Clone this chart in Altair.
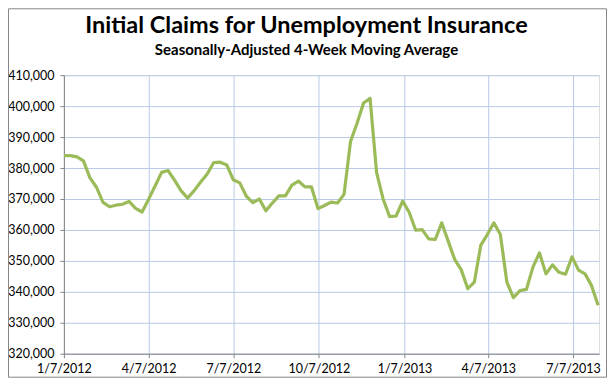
import altair as alt
import pandas as pd

# 4-week moving average of initial claims, weekly, first week ending 1/7/2012
claims = [
    384000, 384000, 383600, 382300, 376800, 373800, 368900, 367500, 368000, 368300,
    369200, 367000, 365800, 369900, 374200, 378600, 379200, 376000, 372600, 370300,
    372700, 375500, 378100, 381800, 381900, 381000, 376200, 375200, 370900, 368800,
    370000, 366200, 368700, 371000, 371000, 374500, 375800, 373900, 373900, 366900,
    367900, 369000, 368700, 371500, 388600, 394500, 401000, 402500, 378500, 370000,
    364300, 364500, 369300, 365700, 359900, 360100, 357100, 356900, 362300, 356300,
    350400, 347100, 341000, 343100, 355100, 358500, 362300, 358500, 343100, 338100,
    340400, 340800, 348000, 352600, 345800, 348700, 346300, 345700, 351300, 347000,
    345800, 342000, 335700,
]
week_ending = pd.date_range("2012-01-07", periods=len(claims), freq="7D")

x_ticks = ["2012-01-07", "2012-04-07", "2012-07-07", "2012-10-07",
           "2013-01-07", "2013-04-07", "2013-07-07"]
y_ticks = [320000, 330000, 340000, 350000, 360000, 370000, 380000, 390000, 400000, 410000]

title_text = "Initial Claims for Unemployment Insurance"
subtitle_text = "Seasonally-Adjusted 4-Week Moving Average"

df = pd.DataFrame({"date": week_ending, "claims": claims})

FONT = "Lato"
GRID = "#B9CAE6"
AXIS = "#868686"


def to_dt(s):
    y, m, d = [int(p) for p in s.split("-")]
    return alt.DateTime(year=y, month=m, date=d)


line = alt.Chart(df).mark_line(color="#9BBB59", strokeWidth=3.2, strokeJoin="round").encode(
    x=alt.X(
        "date:T",
        scale=alt.Scale(domain=[to_dt("2012-01-07"), to_dt("2013-08-04")], nice=False),
        axis=alt.Axis(
            values=[to_dt(s) for s in x_ticks],
            format="%-m/%-d/%Y",
            title=None,
            grid=True,
            gridColor=GRID,
            gridWidth=1,
            domainColor=AXIS,
            tickColor=AXIS,
            tickSize=4,
            labelPadding=5,
            labelFont=FONT,
            labelFontSize=12.5,
            labelColor="#000000",
            labelOverlap=False,
            labelFlush=False,
        ),
    ),
    y=alt.Y(
        "claims:Q",
        scale=alt.Scale(domain=[320000, 410000], nice=False, zero=False),
        axis=alt.Axis(
            values=y_ticks,
            format=",.0f",
            title=None,
            grid=True,
            gridColor=GRID,
            gridWidth=1,
            domainColor=AXIS,
            tickColor=AXIS,
            tickSize=4,
            labelPadding=6,
            labelFont=FONT,
            labelFontSize=12.5,
            labelColor="#000000",
        ),
    ),
)

title = alt.Chart(pd.DataFrame({"t": [title_text]})).mark_text(
    font=FONT, fontSize=23.5, fontWeight="bold", color="#000000", align="center", baseline="alphabetic"
).encode(text="t:N", x=alt.value(243), y=alt.value(-42))

subtitle = alt.Chart(pd.DataFrame({"t": [subtitle_text]})).mark_text(
    font=FONT, fontSize=15, fontWeight="bold", color="#000000", align="center", baseline="alphabetic"
).encode(text="t:N", x=alt.value(243), y=alt.value(-20))

border = alt.Chart(pd.DataFrame({"a": [0]})).mark_rect(
    fill=None, stroke=AXIS, strokeWidth=1
).encode(x=alt.value(-55.5), x2=alt.value(543.5), y=alt.value(-66.5), y2=alt.value(302.5))

chart = alt.layer(border, line, title, subtitle).properties(
    width=536,
    height=279,
    autosize=alt.AutoSizeParams(type="none"),
    padding={"left": 56, "top": 67, "right": 8, "bottom": 24},
).configure_view(stroke=None).configure(background="#ffffff")

chart.save("out.html", embed_options={"renderer": "svg", "actions": False})
